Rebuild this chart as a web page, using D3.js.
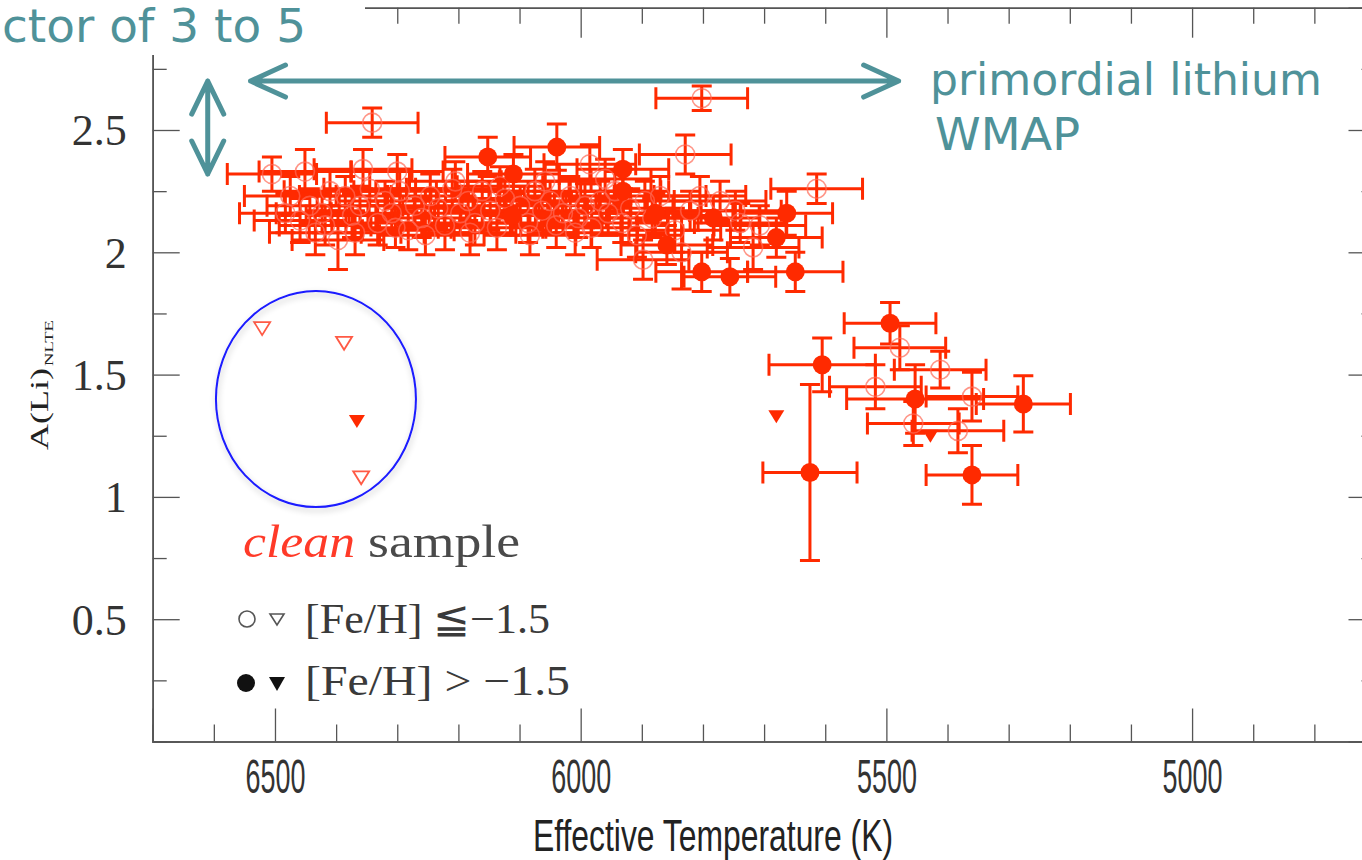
<!DOCTYPE html>
<html>
<head>
<meta charset="utf-8">
<script src="https://cdn.jsdelivr.net/npm/d3@7"></script>
<style>
  html, body { margin: 0; padding: 0; background: #fff; }
  svg { display: block; }
</style>
</head>
<body>
<script>
// Lithium abundance A(Li)_NLTE versus effective temperature, "clean" sample.

// Axis ticks
const xMajorTicks = [6500, 6000, 5500, 5000];
const xTickLabels = ["6500", "6000", "5500", "5000"];
const xMinorTicks = [6600, 6400, 6300, 6200, 6100, 5900, 5800, 5700, 5600, 5400, 5300, 5200, 5100, 4900, 4800];
const yMajorTicks = [0.5, 1, 1.5, 2, 2.5];
const yTickLabels = ["0.5", "1", "1.5", "2", "2.5"];
const yMinorTicks = [0.25, 0.75, 1.25, 1.75, 2.25, 2.75];

// [Teff (K), A(Li), Teff error, A(Li) error]
// [Fe/H] <= -1.5, detections (open circles)
const metalPoorStars = [
  [5802, 2.63, 75, 0.05], [6341, 2.53, 75, 0.06], [6505, 2.32, 73, 0.07], [6451, 2.33, 75, 0.09],
  [6397, 2.05, 75, 0.12], [6356, 2.34, 80, 0.08], [6300, 2.33, 75, 0.07], [6423, 2.16, 75, 0.08],
  [6475, 2.23, 75, 0.08], [6443, 2.19, 70, 0.07], [6410, 2.25, 75, 0.08], [6459, 2.13, 75, 0.09],
  [6385, 2.23, 75, 0.08], [6374, 2.15, 75, 0.09], [6361, 2.19, 70, 0.08], [6345, 2.26, 75, 0.07],
  [6332, 2.12, 75, 0.09], [6320, 2.21, 75, 0.08], [6309, 2.16, 70, 0.08], [6296, 2.25, 75, 0.09],
  [6282, 2.09, 75, 0.08], [6271, 2.19, 75, 0.07], [6260, 2.14, 75, 0.08], [6246, 2.23, 70, 0.09],
  [6233, 2.18, 75, 0.08], [6222, 2.11, 75, 0.10], [6210, 2.26, 75, 0.08], [6197, 2.16, 75, 0.08],
  [6184, 2.21, 70, 0.08], [6173, 2.12, 75, 0.09], [6161, 2.25, 75, 0.08], [6148, 2.17, 75, 0.08],
  [6137, 2.10, 75, 0.09], [6124, 2.22, 70, 0.08], [6099, 2.19, 75, 0.08], [6086, 2.12, 75, 0.08],
  [6075, 2.25, 75, 0.09], [6063, 2.17, 70, 0.08], [6050, 2.21, 75, 0.08], [6040, 2.11, 75, 0.09],
  [6029, 2.16, 75, 0.08], [6017, 2.23, 75, 0.08], [6004, 2.14, 70, 0.08], [5993, 2.19, 75, 0.09],
  [5982, 2.10, 75, 0.08], [5968, 2.21, 75, 0.08], [5955, 2.16, 75, 0.09], [5944, 2.25, 75, 0.08],
  [5932, 2.12, 75, 0.08], [5919, 2.18, 70, 0.08], [5908, 2.07, 75, 0.09], [5895, 2.21, 75, 0.08],
  [5883, 2.14, 75, 0.08], [5985, 2.36, 75, 0.08], [5829, 2.40, 75, 0.08], [5614, 2.26, 75, 0.06],
  [5718, 2.02, 75, 0.09], [5898, 1.97, 75, 0.08], [5835, 2.00, 75, 0.15], [5805, 2.23, 75, 0.08],
  [5747, 2.17, 75, 0.08], [5707, 2.11, 75, 0.08],
  [6418, 2.11, 75, 0.08], [6369, 2.08, 75, 0.09], [6303, 2.10, 70, 0.08], [6254, 2.07, 75, 0.08],
  [6205, 2.29, 75, 0.08], [6181, 2.08, 75, 0.09], [6132, 2.27, 70, 0.08], [6083, 2.07, 75, 0.08],
  [6058, 2.29, 75, 0.08], [6009, 2.08, 75, 0.09], [5960, 2.30, 75, 0.08], [5870, 2.23, 75, 0.08],
  [5846, 2.09, 75, 0.09], [5821, 2.17, 70, 0.08], [5772, 2.21, 75, 0.08], [5739, 2.12, 75, 0.08],
  [6483, 2.16, 75, 0.08], [6434, 2.08, 75, 0.09],
  [5478, 1.61, 75, 0.09], [5412, 1.52, 75, 0.075], [5518, 1.45, 75, 0.09], [5360, 1.41, 75, 0.10],
  [5456, 1.30, 75, 0.09], [5383, 1.27, 75, 0.09]
];

// [Fe/H] > -1.5, detections (filled circles)
const metalRichStars = [
  [6039, 2.43, 70, 0.095], [6152, 2.39, 70, 0.08], [6110, 2.32, 75, 0.08], [6112, 2.15, 75, 0.08],
  [5931, 2.34, 75, 0.08], [5931, 2.25, 75, 0.09], [5878, 2.16, 75, 0.08], [5859, 2.03, 75, 0.08],
  [5783, 2.14, 75, 0.09], [5663, 2.16, 75, 0.09], [5680, 2.06, 75, 0.08], [5802, 1.92, 75, 0.08],
  [5756, 1.90, 75, 0.075], [5649, 1.92, 78, 0.08],
  [5494, 1.71, 75, 0.085], [5605, 1.54, 87, 0.11], [5625, 1.10, 77, 0.36], [5453, 1.40, 112, 0.14],
  [5276, 1.38, 77, 0.115], [5360, 1.09, 75, 0.12]
];

// Upper limits [Teff, A(Li)]
const metalPoorLimits = [[6521, 1.69], [6387, 1.63], [6359, 1.08]];
const metalRichLimits = [[6366, 1.31], [5680, 1.33], [5428, 1.25]];

const W = 1362, H = 860;
const red = "#ff2a00";
const teal = "#4f9299";
const axisColor = "#555";

const x = d3.scaleLinear().domain([6700, 4700]).range([152.7, 1375.5]);
const y = d3.scaleLinear().domain([0, 3]).range([741.5, 7.7]);

const svg = d3.select("body").append("svg").attr("width", W).attr("height", H);

const defs = svg.append("defs");
const shadow = defs.append("filter").attr("id", "soft-shadow")
  .attr("x", "-20%").attr("y", "-20%").attr("width", "140%").attr("height", "140%");
shadow.append("feGaussianBlur").attr("in", "SourceAlpha").attr("stdDeviation", 3).attr("result", "b");
shadow.append("feOffset").attr("in", "b").attr("dx", 1).attr("dy", 3).attr("result", "o");
shadow.append("feComponentTransfer").attr("in", "o").attr("result", "s")
  .append("feFuncA").attr("type", "linear").attr("slope", 0.25);
const merge = shadow.append("feMerge");
merge.append("feMergeNode").attr("in", "s");
merge.append("feMergeNode").attr("in", "SourceGraphic");

// ---- axes (ticks drawn inward on all four sides) ----
function styleAxis(g) {
  g.selectAll(".domain").attr("stroke", axisColor).attr("stroke-width", 1.6);
  g.selectAll(".tick line").attr("stroke", axisColor).attr("stroke-width", 1.3);
}

const gAxes = svg.append("g");

const axBottom = gAxes.append("g").attr("transform", `translate(0,${y(0)})`)
  .call(d3.axisBottom(x).tickValues(xMajorTicks).tickSize(-33).tickPadding(17)
    .tickFormat((d, i) => xTickLabels[i]));
axBottom.selectAll("text")
  .attr("fill", "#333")
  .attr("font-family", "'Liberation Sans Narrow', 'Liberation Sans', Arial, sans-serif")
  .attr("font-size", 48)
  .attr("textLength", 60).attr("lengthAdjust", "spacingAndGlyphs");
styleAxis(axBottom);
const axBottomMinor = gAxes.append("g").attr("transform", `translate(0,${y(0)})`)
  .call(d3.axisBottom(x).tickValues(xMinorTicks).tickSize(-17).tickFormat(""));
styleAxis(axBottomMinor);

const axTop = gAxes.append("g").attr("transform", `translate(0,${y(3)})`)
  .call(d3.axisTop(x).tickValues(xMajorTicks).tickSize(-30).tickFormat(""));
styleAxis(axTop);
const axTopMinor = gAxes.append("g").attr("transform", `translate(0,${y(3)})`)
  .call(d3.axisTop(x).tickValues(xMinorTicks).tickSize(-16).tickFormat(""));
styleAxis(axTopMinor);

const axLeft = gAxes.append("g").attr("transform", `translate(${x(6700)},0)`)
  .call(d3.axisLeft(y).tickValues(yMajorTicks).tickSize(-27).tickPadding(26)
    .tickFormat((d, i) => yTickLabels[i]));
axLeft.selectAll("text")
  .attr("fill", "#333")
  .attr("font-family", "'Liberation Serif', 'DejaVu Serif', serif")
  .attr("font-size", 44)
  .attr("dy", "0.34em");
styleAxis(axLeft);
const axLeftMinor = gAxes.append("g").attr("transform", `translate(${x(6700)},0)`)
  .call(d3.axisLeft(y).tickValues(yMinorTicks).tickSize(-14).tickFormat(""));
styleAxis(axLeftMinor);

const axRight = gAxes.append("g").attr("transform", `translate(${x(4700)},0)`)
  .call(d3.axisRight(y).tickValues(yMajorTicks).tickSize(-27).tickFormat(""));
styleAxis(axRight);
const axRightMinor = gAxes.append("g").attr("transform", `translate(${x(4700)},0)`)
  .call(d3.axisRight(y).tickValues(yMinorTicks).tickSize(-14).tickFormat(""));
styleAxis(axRightMinor);

// axis titles
svg.append("text")
  .attr("x", 713).attr("y", 851)
  .attr("text-anchor", "middle")
  .attr("fill", "#222")
  .attr("font-family", "'Liberation Sans Narrow', 'Liberation Sans', Arial, sans-serif")
  .attr("font-size", 44)
  .attr("textLength", 360).attr("lengthAdjust", "spacingAndGlyphs")
  .text("Effective Temperature (K)");

svg.append("text")
  .attr("transform", "translate(48,450) rotate(-90)")
  .attr("fill", "#222")
  .attr("font-family", "'Liberation Serif', 'DejaVu Serif', serif")
  .attr("font-size", 26)
  .attr("textLength", 82).attr("lengthAdjust", "spacingAndGlyphs")
  .text("A(Li)");
svg.append("text")
  .attr("transform", "translate(53,366) rotate(-90)")
  .attr("fill", "#222")
  .attr("font-family", "'Liberation Serif', 'DejaVu Serif', serif")
  .attr("font-size", 13)
  .attr("textLength", 46).attr("lengthAdjust", "spacingAndGlyphs")
  .text("NLTE");

// ---- data ----
const stars = metalPoorStars.map(d => ({ t: d[0], a: d[1], dt: d[2], da: d[3], rich: false }))
  .concat(metalRichStars.map(d => ({ t: d[0], a: d[1], dt: d[2], da: d[3], rich: true })));

const gErr = svg.append("g").attr("stroke", red).attr("stroke-width", 3).attr("fill", "none");
const capH = 11, capV = 10;
stars.forEach(s => {
  const cx = x(s.t), cy = y(s.a);
  const x0 = x(s.t + s.dt), x1 = x(s.t - s.dt);
  const y0 = y(s.a + s.da), y1 = y(s.a - s.da);
  const p = d3.path();
  p.moveTo(x0, cy); p.lineTo(x1, cy);
  p.moveTo(x0, cy - capH); p.lineTo(x0, cy + capH);
  p.moveTo(x1, cy - capH); p.lineTo(x1, cy + capH);
  p.moveTo(cx, y0); p.lineTo(cx, y1);
  p.moveTo(cx - capV, y0); p.lineTo(cx + capV, y0);
  p.moveTo(cx - capV, y1); p.lineTo(cx + capV, y1);
  gErr.append("path").attr("d", p.toString());
});

svg.append("g").selectAll("circle")
  .data(stars.filter(s => !s.rich))
  .join("circle")
  .attr("cx", d => x(d.t)).attr("cy", d => y(d.a)).attr("r", 9.5)
  .attr("fill", "none").attr("stroke", "#ff6a55").attr("stroke-opacity", 0.7)
  .attr("stroke-width", 1.6);

svg.append("g").selectAll("circle")
  .data(stars.filter(s => s.rich))
  .join("circle")
  .attr("cx", d => x(d.t)).attr("cy", d => y(d.a)).attr("r", 9.5)
  .attr("fill", red);

const triPath = "M-8,-6L8,-6L0,7Z";
svg.append("g").selectAll("path")
  .data(metalPoorLimits)
  .join("path")
  .attr("transform", d => `translate(${x(d[0])},${y(d[1])})`)
  .attr("d", triPath)
  .attr("fill", "#fff").attr("stroke", "#ff5a45").attr("stroke-width", 1.8);
svg.append("g").selectAll("path")
  .data(metalRichLimits)
  .join("path")
  .attr("transform", d => `translate(${x(d[0])},${y(d[1])})`)
  .attr("d", triPath)
  .attr("fill", red);

// ring around the hot upper limits
svg.append("ellipse")
  .attr("cx", x(6433)).attr("cy", y(1.40))
  .attr("rx", 100).attr("ry", 108)
  .attr("fill", "none").attr("stroke", "#1a1aff").attr("stroke-width", 2)
  .attr("filter", "url(#soft-shadow)");

// ---- legend ----
const serif = "'Liberation Serif', 'DejaVu Serif', serif";
svg.append("text").attr("x", 243).attr("y", 557)
  .attr("fill", "#ff3a28").attr("font-family", serif).attr("font-style", "italic")
  .attr("font-size", 46).attr("textLength", 112).attr("lengthAdjust", "spacingAndGlyphs")
  .text("clean");
svg.append("text").attr("x", 368).attr("y", 557)
  .attr("fill", "#4a4a4a").attr("font-family", serif)
  .attr("font-size", 46).attr("textLength", 152).attr("lengthAdjust", "spacingAndGlyphs")
  .text("sample");

svg.append("circle").attr("cx", 247).attr("cy", 619).attr("r", 8)
  .attr("fill", "none").attr("stroke", "#555").attr("stroke-width", 1.6);
svg.append("path").attr("transform", "translate(277,619)").attr("d", "M-7,-5L7,-5L0,6Z")
  .attr("fill", "none").attr("stroke", "#555").attr("stroke-width", 1.6);
svg.append("text").attr("x", 305).attr("y", 633)
  .attr("fill", "#3a3a3a").attr("font-family", serif).attr("font-size", 42)
  .attr("textLength", 245).attr("lengthAdjust", "spacingAndGlyphs")
  .text("[Fe/H] \u2266\u22121.5");

svg.append("circle").attr("cx", 246).attr("cy", 683).attr("r", 9).attr("fill", "#111");
svg.append("path").attr("transform", "translate(277,683)").attr("d", "M-8,-6L8,-6L0,8Z")
  .attr("fill", "#111");
svg.append("text").attr("x", 305).attr("y", 695)
  .attr("fill", "#3a3a3a").attr("font-family", serif).attr("font-size", 42)
  .attr("textLength", 265).attr("lengthAdjust", "spacingAndGlyphs")
  .text("[Fe/H] > \u22121.5");

// ---- annotations ----
svg.append("rect").attr("x", 0).attr("y", 0).attr("width", 365).attr("height", 55).attr("fill", "#fff");

const handFont = "'DejaVu Sans', 'Noto Sans', sans-serif";
svg.append("text").attr("x", 2).attr("y", 42)
  .attr("fill", teal)
  .attr("font-family", handFont).attr("font-size", 46)
  .attr("textLength", 304).attr("lengthAdjust", "spacingAndGlyphs")
  .text("ctor of 3 to 5");
svg.append("text").attr("x", 930).attr("y", 95)
  .attr("fill", teal).attr("font-family", handFont).attr("font-size", 44)
  .attr("textLength", 392).attr("lengthAdjust", "spacingAndGlyphs")
  .text("primordial lithium");
svg.append("text").attr("x", 935).attr("y", 150)
  .attr("fill", teal).attr("font-family", handFont).attr("font-size", 44)
  .attr("textLength", 145).attr("lengthAdjust", "spacingAndGlyphs")
  .text("WMAP");

const gArrow = svg.append("g").attr("stroke", teal).attr("stroke-width", 5)
  .attr("stroke-linecap", "round").attr("stroke-linejoin", "round").attr("fill", "none");
// horizontal double arrow at the primordial value
const hy = y(2.70), hx0 = x(6540), hx1 = x(5480);
gArrow.append("path").attr("d", `M${hx0},${hy}L${hx1},${hy}` +
  `M${hx0 + 35},${hy - 16}L${hx0},${hy}L${hx0 + 35},${hy + 16}` +
  `M${hx1 - 35},${hy - 16}L${hx1},${hy}L${hx1 - 35},${hy + 16}`);
// vertical double arrow: plateau to primordial value
const vx = x(6610), vy0 = y(2.70), vy1 = y(2.32);
gArrow.append("path").attr("d", `M${vx},${vy0}L${vx},${vy1}` +
  `M${vx - 16},${vy0 + 33}L${vx},${vy0}L${vx + 16},${vy0 + 33}` +
  `M${vx - 16},${vy1 - 33}L${vx},${vy1}L${vx + 16},${vy1 - 33}`);
</script>
</body>
</html>
